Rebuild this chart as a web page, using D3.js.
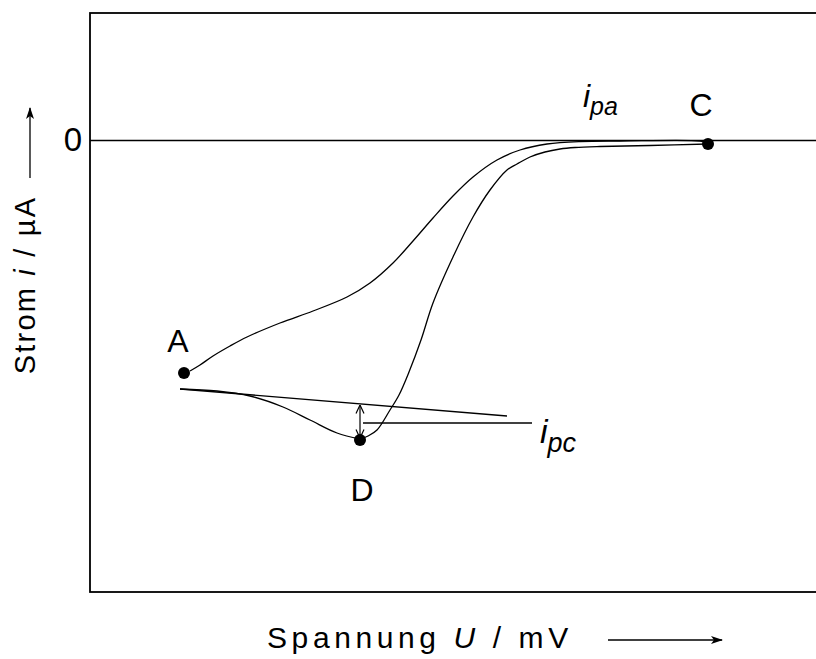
<!DOCTYPE html>
<html>
<head>
<meta charset="utf-8">
<script src="https://cdn.jsdelivr.net/npm/d3@7/dist/d3.min.js"></script>
<style>
  html, body { margin: 0; padding: 0; background: #fff; }
  svg { display: block; }
  text { font-family: "Liberation Sans", Arial, sans-serif; fill: #000; }
</style>
</head>
<body>
<svg id="chart" width="816" height="659"></svg>
<script>
// Schematic cyclic voltammogram: potential U (mV) vs. current i (µA)

// Forward branch from A up to C
const branchAC = [
  [100,-231],[110,-225],[123,-216],[140,-206],[157,-197],[190,-183],[223,-171],
  [257,-157],[280,-143],[303,-123],[323,-101],[343,-78],[363,-56],[383,-37],
  [407,-20],[430,-10],[457,-4],[490,-1.5],[530,-1],[610,-1],[618,-3]
];
// Return branch from C down to the cathodic peak D
const branchCD = [
  [618,-4],[560,-5.5],[510,-6.5],[485,-7.5],[470,-9],[455,-12],[440,-17],
  [427,-24],[417,-30],[400,-50],[383,-77],[363,-117],[343,-163],[331,-200],
  [319,-232],[309,-255],[300,-270],[287,-290],[278,-296],[270,-299]
];
// Branch from D back to the left
const branchD = [
  [270,-299],[247,-293],[220,-280],[193,-267],[160,-256],[127,-251],[90,-249]
];
// Extrapolated baseline for the cathodic peak current
const baseline = [[90,-249],[417,-276]];
// Peak-current arrow (baseline to peak) and label leader
const peakArrow = [[270,-265],[270,-298]];
const ipcLeader = [[273,-283],[442,-283]];

// Marked points
const markers = [
  {name: "A", u: 94,  i: -233, dx: -6,  dy: -21},
  {name: "C", u: 618, i: -4,   dx: -7,  dy: -28},
  {name: "D", u: 270, i: -300, dx: 2,   dy: 61}
];

const yTicks = [0];
const xDomain = [0, 740];
const yDomain = [-452, 127];

const svg = d3.select("#chart");
const mLeft = 90, mTop = 13, mRight = 830, mBottom = 592;

const x = d3.scaleLinear().domain(xDomain).range([mLeft, mRight]);
const y = d3.scaleLinear().domain(yDomain).range([mBottom, mTop]);

const defs = svg.append("defs");
// open V arrowhead for the peak-current arrow
defs.append("marker")
  .attr("id", "vhead").attr("viewBox", "0 0 10 10")
  .attr("refX", 9.5).attr("refY", 5)
  .attr("markerWidth", 10).attr("markerHeight", 10)
  .attr("markerUnits", "userSpaceOnUse")
  .attr("orient", "auto-start-reverse")
  .append("path").attr("d", "M1,1 L9.5,5 L1,9")
  .attr("fill", "none").attr("stroke", "#000").attr("stroke-width", 1.2);
// filled arrowhead for axis direction arrows
defs.append("marker")
  .attr("id", "fhead").attr("viewBox", "0 0 12 10")
  .attr("refX", 11).attr("refY", 5)
  .attr("markerWidth", 12).attr("markerHeight", 10)
  .attr("markerUnits", "userSpaceOnUse")
  .attr("orient", "auto")
  .append("path").attr("d", "M0,1 L12,5 L0,9 L3,5 Z")
  .attr("fill", "#000");

// zero line via the y axis
const yAxis = d3.axisLeft(y).tickValues(yTicks).tickSize(-(mRight - mLeft)).tickPadding(8)
  .tickFormat(d3.format("d"));
const gy = svg.append("g").attr("transform", `translate(${mLeft},0)`).call(yAxis);
gy.select(".domain").remove();
gy.selectAll(".tick line").attr("stroke", "#000").attr("stroke-width", 1.3);
gy.selectAll(".tick text").attr("font-size", 33).attr("font-family", "Liberation Sans, Arial, sans-serif");

// frame
svg.append("rect")
  .attr("x", mLeft).attr("y", mTop).attr("width", mRight - mLeft).attr("height", mBottom - mTop)
  .attr("fill", "none").attr("stroke", "#000").attr("stroke-width", 1.8);

const smooth = d3.line().x(d => x(d[0])).y(d => y(d[1])).curve(d3.curveCatmullRom.alpha(0.5));
const straight = d3.line().x(d => x(d[0])).y(d => y(d[1]));

[branchAC, branchCD, branchD].forEach(b => {
  svg.append("path").attr("d", smooth(b))
    .attr("fill", "none").attr("stroke", "#000").attr("stroke-width", 1.3);
});

svg.append("path").attr("d", straight(baseline))
  .attr("fill", "none").attr("stroke", "#000").attr("stroke-width", 1.3);
svg.append("path").attr("d", straight(ipcLeader))
  .attr("fill", "none").attr("stroke", "#000").attr("stroke-width", 1.3);
svg.append("path").attr("d", straight(peakArrow))
  .attr("fill", "none").attr("stroke", "#000").attr("stroke-width", 1.2)
  .attr("marker-start", "url(#vhead)").attr("marker-end", "url(#vhead)");

// marked points and their letters
svg.selectAll("circle.pt").data(markers).join("circle")
  .attr("class", "pt")
  .attr("cx", d => x(d.u)).attr("cy", d => y(d.i)).attr("r", 6).attr("fill", "#000");
svg.selectAll("text.pt").data(markers).join("text")
  .attr("class", "pt")
  .attr("x", d => x(d.u) + d.dx).attr("y", d => y(d.i) + d.dy)
  .attr("text-anchor", "middle").attr("font-size", 32)
  .text(d => d.name);

// peak current labels
function peakLabel(px, py, sub, big, small) {
  const t = svg.append("text").attr("x", px).attr("y", py).attr("font-style", "italic");
  t.append("tspan").attr("font-size", big).text("i");
  t.append("tspan").attr("font-size", small).attr("dy", small * 0.33).text(sub);
}
peakLabel(x(493), y(33), "pa", 32, 25);
peakLabel(x(450), y(-303), "pc", 34, 27);

// y axis title with direction arrow
const yt = svg.append("text")
  .attr("transform", "translate(35,285) rotate(-90)")
  .attr("text-anchor", "middle").attr("font-size", 29).attr("letter-spacing", 2.2);
yt.append("tspan").text("Strom ");
yt.append("tspan").attr("font-style", "italic").text("i");
yt.append("tspan").text(" / µA");
svg.append("line").attr("x1", 30).attr("y1", 178).attr("x2", 30).attr("y2", 108)
  .attr("stroke", "#000").attr("stroke-width", 1.3).attr("marker-end", "url(#fhead)");

// x axis title with direction arrow
const xt = svg.append("text")
  .attr("x", 267).attr("y", 648).attr("font-size", 30).attr("letter-spacing", 4.6);
xt.append("tspan").text("Spannung ");
xt.append("tspan").attr("font-style", "italic").text("U");
xt.append("tspan").text(" / mV");
svg.append("line").attr("x1", 608).attr("y1", 640).attr("x2", 722).attr("y2", 640)
  .attr("stroke", "#000").attr("stroke-width", 1.3).attr("marker-end", "url(#fhead)");
</script>
</body>
</html>
